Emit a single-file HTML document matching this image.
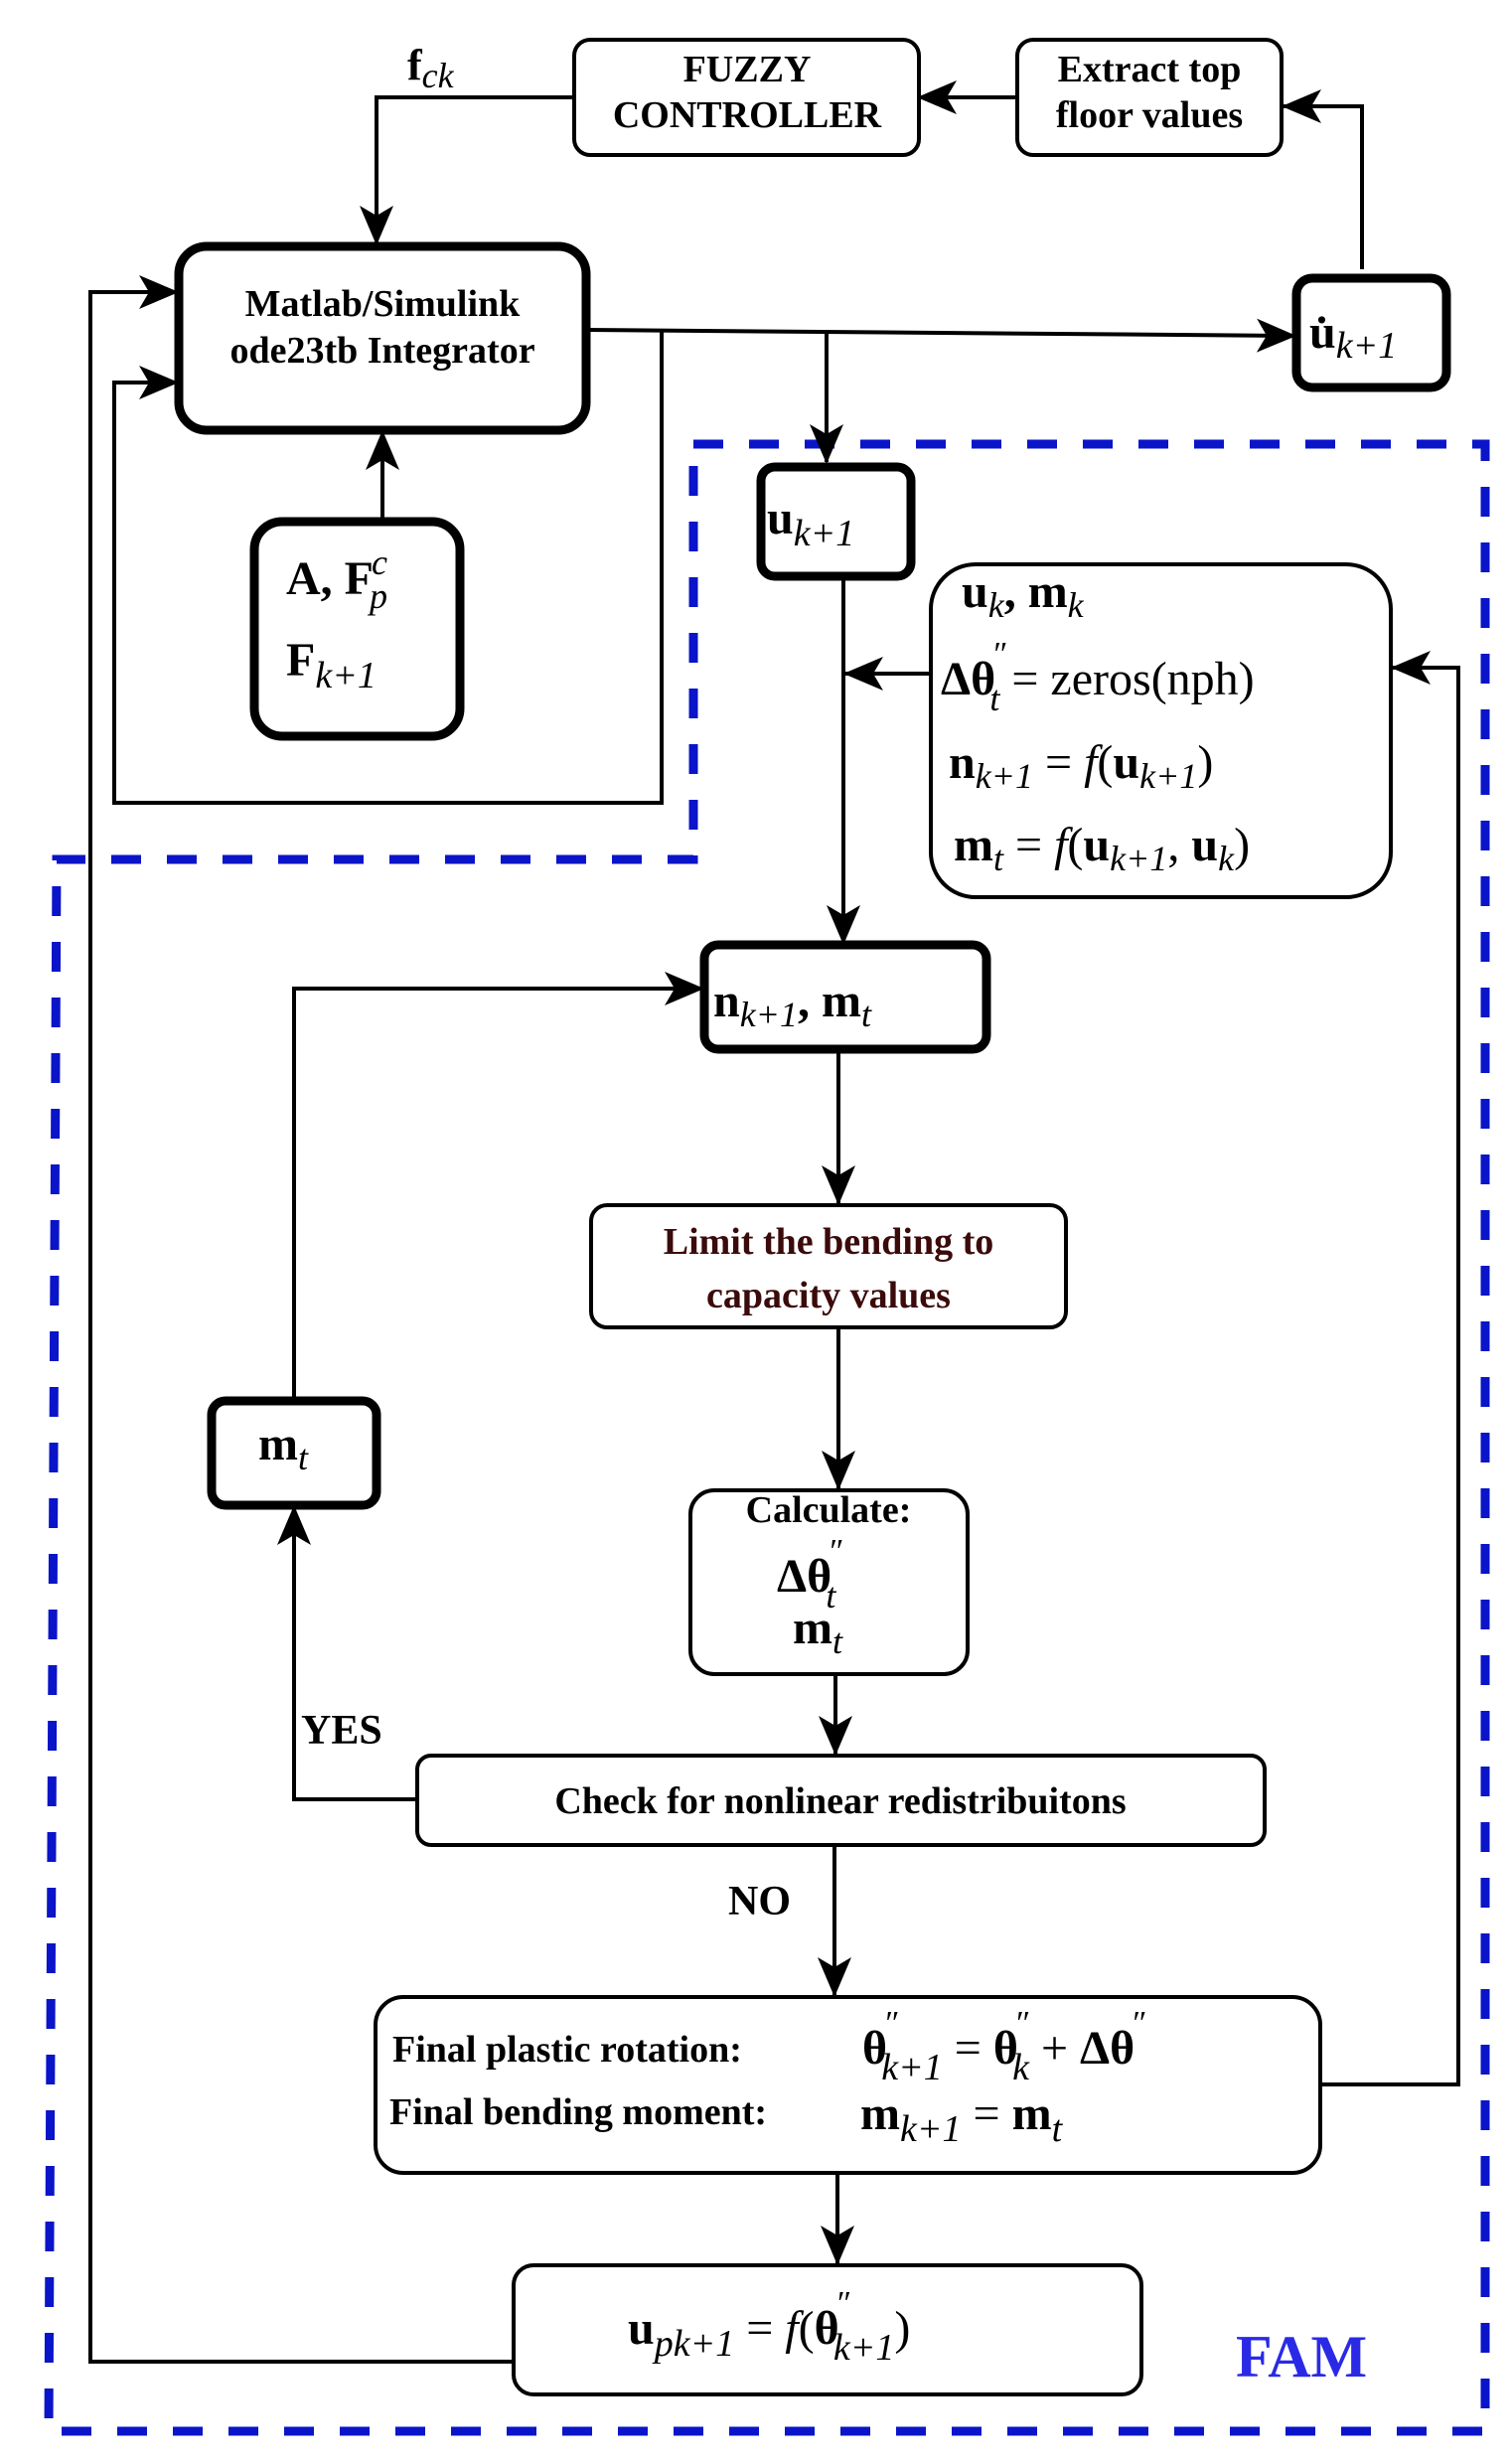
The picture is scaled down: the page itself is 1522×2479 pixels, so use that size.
<!DOCTYPE html>
<html><head><meta charset="utf-8"><style>
html,body{margin:0;padding:0;background:#fff}
svg{display:block}
text{font-family:"Liberation Serif",serif}
.b{font-weight:bold}
.i{font-style:italic;font-weight:normal}
</style></head><body>
<svg width="1522" height="2479" viewBox="0 0 1522 2479" xmlns="http://www.w3.org/2000/svg">
<defs>
<marker id="a" viewBox="0 0 40 36" refX="38" refY="18" markerWidth="40" markerHeight="36" markerUnits="userSpaceOnUse" orient="auto">
<path d="M0,1 L40,18 L0,35 L10,18 Z" fill="#000"/>
</marker>
</defs>
<path d="M698,447 L1495,447 L1495,2447 L49,2447 L57,865 L698,865 Z" fill="none" stroke="#0a14c8" stroke-width="9" stroke-dasharray="30,26"/>

<g fill="none" stroke="#000" stroke-width="4">
<path d="M578,98 L379,98 L379,245" marker-end="url(#a)"/>
<path d="M1024,98 L925,98" marker-end="url(#a)"/>
<path d="M1371,271 L1371,107 L1292,107" marker-end="url(#a)"/>
<path d="M590,332 L1303,338" marker-end="url(#a)"/>
<path d="M832,334 L832,465" marker-end="url(#a)"/>
<path d="M666,334 L666,808 L115,808 L115,385 L178,385" marker-end="url(#a)"/>
<path d="M517,2377 L91,2377 L91,294 L178,294" marker-end="url(#a)"/>
<path d="M385,525 L385,435" marker-end="url(#a)"/>
<path d="M849,580 L849,949" marker-end="url(#a)"/>
<path d="M937,678 L851,678" marker-end="url(#a)"/>
<path d="M1329,2098 L1468,2098 L1468,672 L1402,672" marker-end="url(#a)"/>
<path d="M420,1811 L296,1811 L296,1517" marker-end="url(#a)"/>
<path d="M296,1410 L296,995 L707,995" marker-end="url(#a)"/>
<path d="M844,1056 L844,1211" marker-end="url(#a)"/>
<path d="M844,1336 L844,1498" marker-end="url(#a)"/>
<path d="M841,1685 L841,1765" marker-end="url(#a)"/>
<path d="M840,1857 L840,2008" marker-end="url(#a)"/>
<path d="M843,2187 L843,2278" marker-end="url(#a)"/>
</g>

<g fill="#fff" stroke="#000">
<rect x="578" y="40" width="347" height="116" rx="16" stroke-width="4"/>
<rect x="1024" y="40" width="266" height="116" rx="16" stroke-width="4"/>
<rect x="180" y="248" width="410" height="185" rx="28" stroke-width="9"/>
<rect x="1305" y="280" width="151" height="110" rx="16" stroke-width="9"/>
<rect x="256" y="525" width="207" height="216" rx="28" stroke-width="9"/>
<rect x="766" y="470" width="151" height="110" rx="14" stroke-width="9"/>
<rect x="937" y="568" width="463" height="335" rx="45" stroke-width="4"/>
<rect x="709" y="951" width="284" height="105" rx="14" stroke-width="9"/>
<rect x="595" y="1213" width="478" height="123" rx="16" stroke-width="4"/>
<rect x="213" y="1410" width="166" height="105" rx="14" stroke-width="9"/>
<rect x="695" y="1500" width="279" height="185" rx="24" stroke-width="4"/>
<rect x="420" y="1767" width="853" height="90" rx="14" stroke-width="4"/>
<rect x="378" y="2010" width="951" height="177" rx="28" stroke-width="4"/>
<rect x="517" y="2280" width="632" height="130" rx="20" stroke-width="4"/>
</g>

<g font-size="38" class="b" text-anchor="middle">
<text x="752" y="82">FUZZY</text>
<text x="752" y="128">CONTROLLER</text>
<text x="1157" y="82">Extract top</text>
<text x="1157" y="128">floor values</text>
<text x="385" y="318">Matlab/Simulink</text>
<text x="385" y="365">ode23tb Integrator</text>
<text x="834" y="1262" fill="#3b0a0a">Limit the bending to</text>
<text x="834" y="1316" fill="#3b0a0a">capacity values</text>
<text x="834" y="1532">Calculate:</text>
<text x="846" y="1825">Check for nonlinear redistribuitons</text>
</g>
<text x="410" y="80" font-size="44" class="b">f<tspan class="i" font-size="36" dy="8">ck</tspan></text>
<text x="1318" y="350" font-size="48" class="b">u̇<tspan class="i" font-size="38" dy="10">k+1</tspan></text>
<text x="288" y="598" font-size="48" class="b">A, F<tspan class="i" font-size="36" dy="-20" dx="-2">c</tspan><tspan class="i" font-size="36" dy="34" dx="-18">p</tspan></text>
<text x="288" y="680" font-size="48" class="b">F<tspan class="i" font-size="38" dy="12">k+1</tspan></text>
<text x="772" y="537" font-size="48" class="b">u<tspan class="i" font-size="38" dy="12">k+1</tspan></text>
<g font-size="48">
<text x="968" y="611" class="b">u<tspan class="i" font-size="36" dy="10">k</tspan><tspan dy="-10">, m</tspan><tspan class="i" font-size="36" dy="10">k</tspan></text>
<text x="947" y="699" class="b">Δθ<tspan class="i" font-size="34" dy="-30" dx="-4">″</tspan><tspan class="i" font-size="36" dy="46" dx="-16">t</tspan><tspan font-weight="normal" dy="-16">  = zeros(nph)</tspan></text>
<text x="955" y="783" class="b">n<tspan class="i" font-size="36" dy="10">k+1</tspan><tspan font-weight="normal" dy="-10"> = </tspan><tspan class="i">f</tspan><tspan font-weight="normal">(</tspan>u<tspan class="i" font-size="36" dy="10">k+1</tspan><tspan font-weight="normal" dy="-10">)</tspan></text>
<text x="960" y="866" class="b">m<tspan class="i" font-size="36" dy="10">t</tspan><tspan font-weight="normal" dy="-10"> = </tspan><tspan class="i">f</tspan><tspan font-weight="normal">(</tspan>u<tspan class="i" font-size="36" dy="10">k+1</tspan><tspan font-weight="normal" dy="-10">, </tspan>u<tspan class="i" font-size="36" dy="10">k</tspan><tspan font-weight="normal" dy="-10">)</tspan></text>
<text x="718" y="1023" class="b">n<tspan class="i" font-size="36" dy="10">k+1</tspan><tspan dy="-10">,  m</tspan><tspan class="i" font-size="36" dy="10">t</tspan></text>
<text x="260" y="1469" class="b">m<tspan class="i" font-size="36" dy="10">t</tspan></text>
<text x="782" y="1602" class="b">Δθ<tspan class="i" font-size="34" dy="-30" dx="-4">″</tspan><tspan class="i" font-size="36" dy="46" dx="-16">t</tspan></text>
<text x="798" y="1654" class="b">m<tspan class="i" font-size="36" dy="10">t</tspan></text>
<text x="632" y="2359" class="b">u<tspan class="i" font-size="38" dy="12">pk+1</tspan><tspan font-weight="normal" dy="-12"> = </tspan><tspan class="i">f</tspan><tspan font-weight="normal">(</tspan>θ<tspan class="i" font-size="34" dy="-30" dx="-4">″</tspan><tspan class="i" font-size="38" dy="46" dx="-16">k+1</tspan><tspan font-weight="normal" dy="-16">)</tspan></text>
<text x="868" y="2077" class="b">θ<tspan class="i" font-size="34" dy="-30" dx="-4">″</tspan><tspan class="i" font-size="38" dy="46" dx="-16">k+1</tspan><tspan font-weight="normal" dy="-16"> = </tspan>θ<tspan class="i" font-size="34" dy="-30" dx="-4">″</tspan><tspan class="i" font-size="38" dy="46" dx="-16">k</tspan><tspan font-weight="normal" dy="-16"> + </tspan>Δθ<tspan class="i" font-size="34" dy="-30" dx="-4">″</tspan></text>
<text x="866" y="2143" class="b">m<tspan class="i" font-size="38" dy="12">k+1</tspan><tspan font-weight="normal" dy="-12"> = </tspan>m<tspan class="i" font-size="38" dy="12">t</tspan></text>
</g>
<text x="395" y="2075" font-size="38" class="b">Final plastic rotation:</text>
<text x="392" y="2138" font-size="38" class="b">Final bending moment:</text>
<text x="303" y="1755" font-size="42" class="b">YES</text>
<text x="733" y="1927" font-size="42" class="b">NO</text>
<text x="1244" y="2392" font-size="60" class="b" fill="#2a2ae6">FAM</text>
</svg>
</body></html>
